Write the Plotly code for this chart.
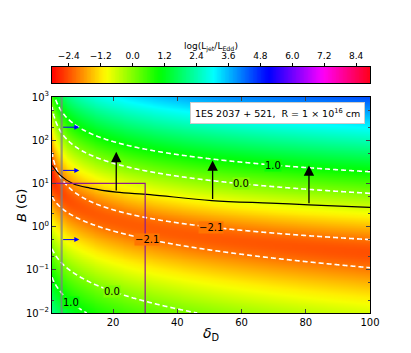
import numpy as np
import plotly.graph_objects as go

# ---------------- data ----------------
delta_range = [1, 100]
logB_range = [-2, 3]

# empirical model of log(Ljet/LEdd) fitted to the contour positions (x = log10 delta, L = log10 B)
# f_up  = u0 + u1*x + uB*L
# f_low = h0 + h1*x + h2*x^2 - alpha*L + kappa*L^2
up_coef = [-5.54, 2.0]
up_Bexp = 2.0
low_coef = [-0.852, -0.612, -0.393]
low_alpha = 1.72
low_kappa = -0.12

contour_levels = [-2.1, 0.0, 1.0]
label_text = ["1.0", "0.0", "\u22122.1", "\u22122.1", "0.0", "1.0"]
label_level = [1.0, 0.0, -2.1, -2.1, 0.0, 1.0]
label_delta = [70, 60, 50.3, 30.5, 19.8, 6.9]
label_branch = ['up', 'up', 'up', 'low', 'low', 'low']

curve_delta = [1.1, 3.5, 7.6, 12.8, 21, 31.5, 50.7, 69, 81, 100]
curve_B = [26, 15.5, 9.8, 7.8, 6.3, 5.5, 4.0, 3.5, 3.2, 2.8]

arrow_delta = [21, 51, 81]
arrow_B_start = [6.3, 4.0, 3.2]
arrow_B_end = [54, 34, 26]

blue_B = [200, 20, 0.5]
blue_delta = [4, 9.5]

grey_delta = 4
purple_delta = [1, 30, 30]
purple_B = [10, 10, 0.01]

cbar_ticks = [-2.4, -1.2, 0.0, 1.2, 2.4, 3.6, 4.8, 6.0, 7.2, 8.4]
z_range = [-3.03, 8.92]

y_tickvals = [0.01, 0.1, 1, 10, 100, 1000]
y_ticktext = ["10<sup>\u22122</sup>", "10<sup>\u22121</sup>", "10<sup>0</sup>",
              "10<sup>1</sup>", "10<sup>2</sup>", "10<sup>3</sup>"]
x_tickvals = [20, 40, 60, 80, 100]

# ---------------- model field ----------------
d = np.linspace(delta_range[0], delta_range[1], 330)
lb = np.linspace(logB_range[0], logB_range[1], 330)
X, LB = np.meshgrid(np.log10(d), lb)
f_up = up_coef[0] + up_coef[1] * X + up_Bexp * LB
f_low = (low_coef[0] + low_coef[1] * X + low_coef[2] * X**2
         - low_alpha * LB + low_kappa * LB**2)
F = np.log10(10**f_up + 10**f_low)
Bvals = 10**lb

# matplotlib 'hsv' colormap
seg = {
    'r': [(0.0, 1), (0.158730, 1), (0.174603, 0.96875), (0.333333, 0.03125), (0.349206, 0),
          (0.666667, 0), (0.682540, 0), (0.841270, 0.9375), (0.857143, 1), (1.0, 1)],
    'g': [(0.0, 0), (0.158730, 0.9375), (0.174603, 1), (0.507937, 1), (0.666667, 0.0625),
          (0.682540, 0), (1.0, 0)],
    'b': [(0.0, 0), (0.333333, 0), (0.349206, 0.0625), (0.507937, 1), (0.841270, 1),
          (0.857143, 0.9375), (1.0, 0.09375)],
}


def cmap(t):
    ch = [np.interp(t, [a for a, _ in seg[k]], [v for _, v in seg[k]]) for k in 'rgb']
    return 'rgb(%d,%d,%d)' % tuple(int(round(c * 255)) for c in ch)


pos = sorted(set(p for k in seg for p, _ in seg[k]))
cs = [[p, cmap(p)] for p in pos]

fig = go.Figure()
fig.add_trace(go.Heatmap(x=d, y=Bvals, z=F, colorscale=cs, zmin=z_range[0], zmax=z_range[1],
                         showscale=False, hoverinfo='skip'))

for lev in contour_levels:
    fig.add_trace(go.Contour(
        x=d, y=Bvals, z=F, autocontour=False, showscale=False, hoverinfo='skip',
        contours=dict(start=lev, end=lev, size=1, coloring='none', showlabels=False),
        line=dict(color='white', dash='5px,3px', width=1.6),
    ))

fig.add_trace(go.Scatter(x=[grey_delta, grey_delta], y=[0.01, 1000], mode='lines',
                         line=dict(color='rgba(128,128,128,0.75)', width=2.2), hoverinfo='skip'))
fig.add_trace(go.Scatter(x=curve_delta, y=curve_B, mode='lines', line_shape='spline',
                         line=dict(color='black', width=1.2), hoverinfo='skip'))
fig.add_trace(go.Scatter(x=purple_delta, y=purple_B, mode='lines',
                         line=dict(color='#8e1b8e', width=1.2), hoverinfo='skip'))

# horizontal colour bar drawn as its own small axis pair (labels above the bar)
cb_x = np.linspace(z_range[0], z_range[1], 400)
fig.add_trace(go.Heatmap(x=cb_x, y=[0], z=[cb_x], colorscale=cs, zmin=z_range[0],
                         zmax=z_range[1], showscale=False, hoverinfo='skip',
                         xaxis='x2', yaxis='y2'))

ann = []
# contour labels, placed on the model contour at the read delta
for txt, lev, dl, br in zip(label_text, label_level, label_delta, label_branch):
    j = int(np.argmin(np.abs(d - dl)))
    col = F[:, j] - lev
    idx = np.where(np.sign(col[:-1]) != np.sign(col[1:]))[0]
    i = idx.max() if br == 'up' else idx.min()
    Lc = lb[i] + (lb[i + 1] - lb[i]) * col[i] / (col[i] - col[i + 1])
    t = (lev - z_range[0]) / (z_range[1] - z_range[0])
    ann.append(dict(x=d[j], y=Lc, xref='x', yref='y', text=txt, showarrow=False,
                    xanchor='center', yanchor='middle',
                    font=dict(size=10, color='black'), bgcolor=cmap(t), borderpad=0))

for dx, b0, b1 in zip(arrow_delta, arrow_B_start, arrow_B_end):
    ann.append(dict(x=dx, y=np.log10(b1), ax=dx, ay=np.log10(b0), xref='x', yref='y',
                    axref='x', ayref='y', showarrow=True, arrowhead=2, arrowsize=1.6,
                    arrowwidth=1.3, arrowcolor='black', text=''))
for b in blue_B:
    ann.append(dict(x=blue_delta[1], y=np.log10(b), ax=blue_delta[0], ay=np.log10(b),
                    xref='x', yref='y', axref='x', ayref='y', showarrow=True, arrowhead=2,
                    arrowsize=1, arrowwidth=1, arrowcolor='blue', text=''))
ann.append(dict(xref='x domain', yref='y domain', x=0.984, y=0.977, xanchor='right',
                yanchor='top', showarrow=False,
                text='1ES 2037 + 521,  R = 1 \u00d7 10<sup>16</sup> cm',
                font=dict(size=9.5, color='black'), bgcolor='white', bordercolor='#cccccc',
                borderwidth=1, borderpad=4))
ann.append(dict(xref='x domain', yref='y domain', x=0.5, y=-0.097, showarrow=False,
                xanchor='center', yanchor='middle',
                text='<i>\u03b4</i><sub>D</sub>', font=dict(size=14, color='black')))
ann.append(dict(xref='x domain', yref='y domain', x=-0.0975, y=0.5, showarrow=False,
                xanchor='center', yanchor='middle',
                textangle=-90, text='<i>B</i> (G)', font=dict(size=13, color='black')))
ann.append(dict(xref='x domain', yref='y domain', x=0.5, y=1.231, showarrow=False,
                xanchor='center', yanchor='middle',
                text='log(L<sub>jet</sub>/L<sub>Edd</sub>)', font=dict(size=9, color='black')))

fig.update_layout(
    width=395, height=337, margin=dict(l=44, r=33, t=30, b=32),
    paper_bgcolor='white', plot_bgcolor='white', showlegend=False,
    font=dict(family='DejaVu Sans', color='black'),
    annotations=ann,
    xaxis=dict(range=delta_range, tickvals=x_tickvals, ticks='inside', ticklen=4,
               mirror='allticks', showline=True, linecolor='black', linewidth=1,
               showgrid=False, zeroline=False, tickfont=dict(size=10), domain=[0, 1]),
    yaxis=dict(type='log', range=logB_range, tickvals=y_tickvals, ticktext=y_ticktext,
               ticks='inside', ticklen=4, mirror='allticks', showline=True,
               linecolor='black', linewidth=1, showgrid=False, zeroline=False,
               tickfont=dict(size=10), domain=[0, 216 / 275],
               minor=dict(ticks='inside', ticklen=2, showgrid=False)),
    xaxis2=dict(range=z_range, anchor='y2', side='top', tickvals=cbar_ticks,
                ticktext=[('%.1f' % t).replace('-', '\u2212') for t in cbar_ticks],
                ticks='outside', ticklen=3, tickcolor='black', showline=True, mirror=True,
                linecolor='black', linewidth=1, showgrid=False, zeroline=False,
                tickfont=dict(size=9), domain=[0, 1]),
    yaxis2=dict(range=[-0.5, 0.5], anchor='x2', showticklabels=False, ticks='',
                showline=True, mirror=True, linecolor='black', linewidth=1,
                showgrid=False, zeroline=False,
                domain=[(305 - 75) / 275, (305 - 59) / 275]),
)

fig.write_html('out.html')
